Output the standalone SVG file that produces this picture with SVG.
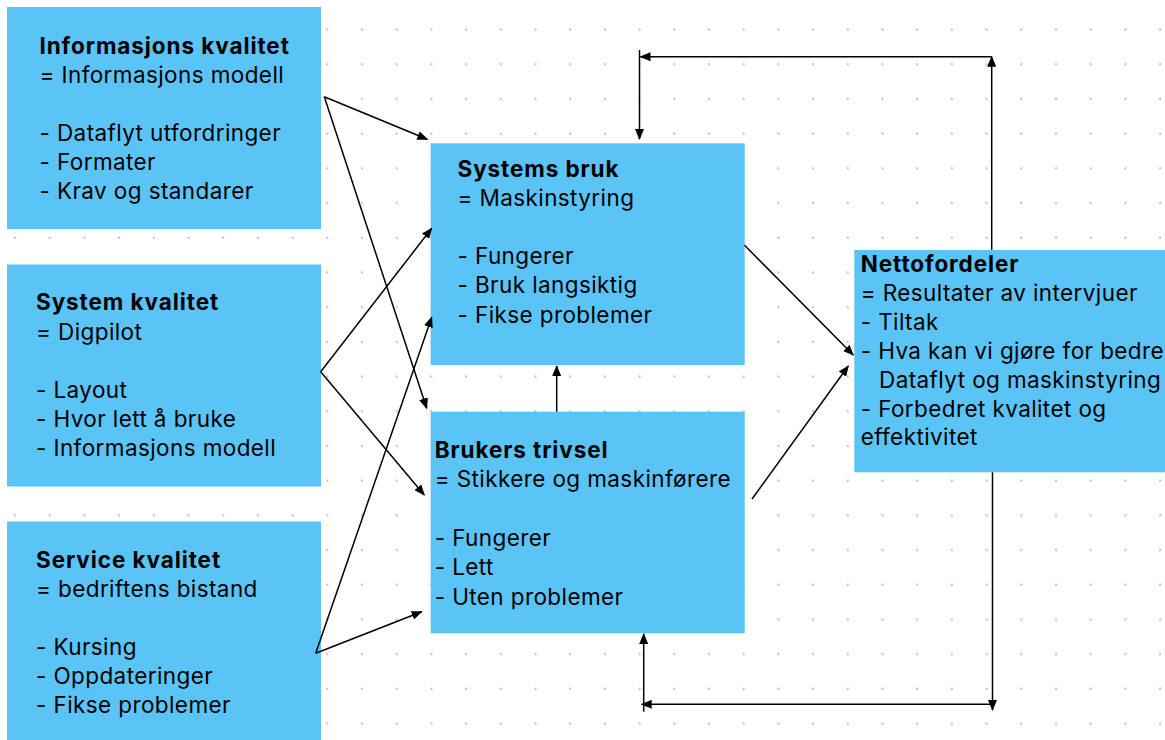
<svg xmlns="http://www.w3.org/2000/svg" width="1165" height="740" viewBox="0 0 1165 740">
<style>
.box{fill:#5BC4F6;}
.t{font-family:Inter,"Noto Sans","Liberation Sans",sans-serif;font-size:22.5px;letter-spacing:0.4px;fill:#000;}
.b{font-weight:700;letter-spacing:0.9px;}
.c{stroke:#000;stroke-width:1.5;fill:none;marker-end:url(#ah);}
</style>
<defs>
<pattern id="dots" patternUnits="userSpaceOnUse" width="34.7" height="34.7">
<circle cx="15" cy="29.5" r="1.2" fill="#c4c4c4"/>
</pattern>
<marker id="ah" markerUnits="userSpaceOnUse" markerWidth="11" markerHeight="9" refX="10" refY="4.5" orient="auto">
<path d="M0,0 L11,4.5 L0,9 z" fill="#000"/>
</marker>
</defs>
<rect width="1165" height="740" fill="#fff"/>
<rect width="1165" height="740" fill="url(#dots)"/>

<g id="n-info">
<rect class="box" x="7" y="7" width="314" height="222"/>
<text class="t" x="39.5"><tspan class="b" y="54">Informasjons kvalitet</tspan><tspan x="39.5" y="83">= Informasjons modell</tspan><tspan x="39.5" y="141">- Dataflyt utfordringer</tspan><tspan x="39.5" y="170">- Formater</tspan><tspan x="39.5" y="199">- Krav og standarer</tspan></text>
</g>

<g id="n-system">
<rect class="box" x="7" y="264.5" width="314" height="222"/>
<text class="t" x="36"><tspan class="b" y="310">System kvalitet</tspan><tspan x="36" y="340">= Digpilot</tspan><tspan x="36" y="398">- Layout</tspan><tspan x="36" y="427">- Hvor lett å bruke</tspan><tspan x="36" y="456">- Informasjons modell</tspan></text>
</g>

<g id="n-service">
<rect class="box" x="7" y="521.5" width="314" height="230"/>
<text class="t" x="36"><tspan class="b" y="568">Service kvalitet</tspan><tspan x="36" y="597">= bedriftens bistand</tspan><tspan x="36" y="655">- Kursing</tspan><tspan x="36" y="684">- Oppdateringer</tspan><tspan x="36" y="713">- Fikse problemer</tspan></text>
</g>

<g id="n-bruk">
<rect class="box" x="430.7" y="143.3" width="314" height="221.7"/>
<text class="t" x="457.5"><tspan class="b" y="176.7">Systems bruk</tspan><tspan x="457.5" y="205.7">= Maskinstyring</tspan><tspan x="457.5" y="264">- Fungerer</tspan><tspan x="457.5" y="293.3">- Bruk langsiktig</tspan><tspan x="457.5" y="322.7">- Fikse problemer</tspan></text>
</g>

<g id="n-trivsel">
<rect class="box" x="430.7" y="411.7" width="314" height="221.6"/>
<text class="t" x="434.7"><tspan class="b" y="458.3">Brukers trivsel</tspan><tspan x="434.7" y="487.3">= Stikkere og maskinførere</tspan><tspan x="434.7" y="546">- Fungerer</tspan><tspan x="434.7" y="575.3">- Lett</tspan><tspan x="434.7" y="604.7">- Uten problemer</tspan></text>
</g>

<g id="n-netto">
<rect class="box" x="854.3" y="250" width="320" height="222.3"/>
<text class="t" x="860.7"><tspan class="b" y="271.7">Nettofordeler</tspan><tspan x="860.7" y="300.7">= Resultater av intervjuer</tspan><tspan x="860.7" y="330">- Tiltak</tspan><tspan x="860.7" y="359">- Hva kan vi gjøre for bedre</tspan><tspan x="879" y="388.3">Dataflyt og maskinstyring</tspan><tspan x="860.7" y="416.7">- Forbedret kvalitet og</tspan><tspan x="860.7" y="445">effektivitet</tspan></text>
</g>

<g id="connectors">
<line class="c" x1="324.3" y1="96.7" x2="427.3" y2="139.3"/>
<line class="c" x1="324.3" y1="96.7" x2="426.7" y2="408.3"/>
<line class="c" x1="320.7" y1="371.7" x2="431.7" y2="228.3"/>
<line class="c" x1="320.7" y1="371.7" x2="424.3" y2="495"/>
<line class="c" x1="315.7" y1="653.3" x2="421.7" y2="611.7"/>
<line class="c" x1="315.7" y1="653.3" x2="431.7" y2="317.3"/>
<line class="c" x1="744.3" y1="245" x2="853.3" y2="355"/>
<line class="c" x1="752" y1="499" x2="848.3" y2="366"/>
<line class="c" x1="556.7" y1="411.7" x2="556.7" y2="366"/>
<line class="c" x1="991.7" y1="250" x2="991.7" y2="56.7"/>
<line class="c" x1="991.7" y1="56.7" x2="640.5" y2="56.7"/>
<line class="c" x1="639.5" y1="50" x2="639.5" y2="139"/>
<line class="c" x1="992.5" y1="472.3" x2="992.5" y2="710"/>
<line class="c" x1="992.5" y1="704.3" x2="641.7" y2="704.3"/>
<line class="c" x1="643.7" y1="711.7" x2="643.7" y2="634"/>
</g>
</svg>
